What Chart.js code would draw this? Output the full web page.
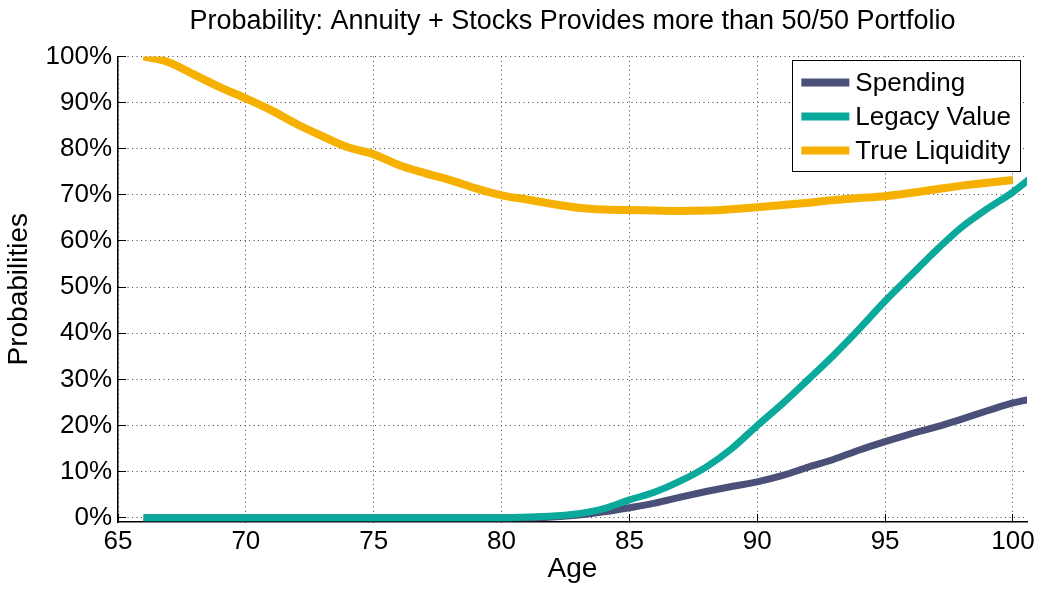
<!DOCTYPE html>
<html>
<head>
<meta charset="utf-8">
<script src="https://cdn.jsdelivr.net/npm/chart.js@4/dist/chart.umd.min.js"></script>
<style>
  html, body { margin: 0; padding: 0; background: #fff; }
  #wrap { width: 1043px; height: 590px; position: relative; }
</style>
</head>
<body>
<div id="wrap"><canvas id="probChart"></canvas></div>
<script>
// ages (years) and probabilities (%)
const ages = [66, 67, 68, 69, 70, 71, 72, 73, 74, 75, 76, 77, 78, 79, 80, 81, 82, 83,
  84, 85, 86, 87, 88, 89, 90, 91, 92, 93, 94, 95, 96, 97, 98, 99, 100, 101];
const spending = [0, 0, 0, 0, 0, 0, 0, 0, 0, 0, 0, 0, 0, 0, 0, 0, 0.2, 0.6,
  1.3, 2.2, 3.2, 4.5, 5.7, 6.8, 7.8, 9.2, 11, 12.7, 14.7, 16.5, 18.2, 19.7, 21.4, 23.2, 24.9, 26.0];
const legacyValue = [0, 0, 0, 0, 0, 0, 0, 0, 0, 0, 0, 0, 0, 0, 0, 0.2, 0.4, 0.9,
  2, 3.9, 5.6, 8, 11, 15, 20, 24.8, 30, 35.3, 41, 47, 52.5, 58, 63, 67, 70.6, 75];
const trueLiquidity = [100, 98.7, 96, 93.3, 90.9, 88.3, 85.3, 82.7, 80.3, 78.8, 76.4, 74.7, 73.2, 71.4, 69.9, 69, 68, 67.2,
  66.8, 66.7, 66.6, 66.5, 66.6, 66.9, 67.3, 67.8, 68.3, 68.9, 69.3, 69.7, 70.4, 71.2, 72, 72.6, 73.2];
const xTicks = [65, 70, 75, 80, 85, 90, 95, 100];
const yTicks = [0, 10, 20, 30, 40, 50, 60, 70, 80, 90, 100];

const FONT = "'Liberation Sans', Arial, Helvetica, sans-serif";

function toPoints(values) {
  return values.map((v, i) => ({ x: ages[i], y: v }));
}

// legend drawn inside the plot, top-right, MATLAB style
const insideLegend = {
  id: "insideLegend",
  afterDatasetsDraw(chart) {
    const { ctx, chartArea } = chart;
    const sets = chart.data.datasets;
    ctx.save();
    ctx.font = "26px " + FONT;
    let textW = 0;
    sets.forEach((ds) => { textW = Math.max(textW, ctx.measureText(ds.label).width); });
    const sample = 48, inset = 9, gap = 6, rowH = 34;
    const w = inset + sample + gap + textW + 9;
    const h = 22 + rowH * (sets.length - 1) + 21;
    const right = chartArea.right - 7;
    const left = right - w;
    const top = chartArea.top + 4;
    ctx.fillStyle = "#fff";
    ctx.fillRect(left, top, w, h);
    ctx.strokeStyle = "#000";
    ctx.lineWidth = 1;
    ctx.strokeRect(Math.round(left) + 0.5, Math.round(top) + 0.5, Math.round(w), Math.round(h));
    sets.forEach((ds, i) => {
      const y = top + 22 + i * rowH;
      ctx.strokeStyle = ds.borderColor;
      ctx.lineWidth = 8;
      ctx.beginPath();
      ctx.moveTo(left + inset, y);
      ctx.lineTo(left + inset + sample, y);
      ctx.stroke();
      ctx.fillStyle = "#000";
      ctx.textBaseline = "middle";
      ctx.textAlign = "left";
      ctx.fillText(ds.label, left + inset + sample + gap, y + 1);
    });
    ctx.restore();
  },
};

new Chart(document.getElementById("probChart"), {
  type: "line",
  data: {
    datasets: [
      {
        label: "Spending",
        data: toPoints(spending),
        borderColor: "#4a5078",
        borderWidth: 7,
        order: 1,
      },
      {
        label: "Legacy Value",
        data: toPoints(legacyValue),
        borderColor: "#0ba99c",
        borderWidth: 7,
        order: 0,
      },
      {
        label: "True Liquidity",
        data: toPoints(trueLiquidity),
        borderColor: "#f6b000",
        borderWidth: 8,
        order: 2,
      },
    ],
  },
  options: {
    responsive: true,
    maintainAspectRatio: false,
    animation: false,
    layout: { padding: { left: 0, right: 16, top: 0, bottom: 0 } },
    elements: {
      point: { radius: 0 },
      line: { cubicInterpolationMode: "monotone", borderCapStyle: "butt" },
    },
    plugins: {
      legend: { display: false },
      tooltip: { enabled: false },
      title: {
        display: true,
        fullSize: false,
        text: "Probability: Annuity + Stocks Provides more than 50/50 Portfolio",
        color: "#000",
        font: { family: FONT, size: 27, weight: "normal" },
        padding: { top: 5, bottom: 19 },
      },
    },
    scales: {
      x: {
        type: "linear",
        min: 65,
        max: 100.55,
        afterBuildTicks(scale) {
          scale.ticks = xTicks.map((v) => ({ value: v }));
        },
        afterFit(scale) {
          scale.height = 68;
          scale.paddingLeft = 0;
          scale.paddingRight = 0;
        },
        ticks: {
          color: "#000",
          font: { family: FONT, size: 26 },
          padding: 12,
          maxRotation: 0,
        },
        grid: { color: "#444", lineWidth: 1, tickLength: -8, tickColor: "#000" },
        border: { display: true, color: "#000", width: 1.5, dash: [1, 3.5] },
        title: {
          display: true,
          text: "Age",
          color: "#000",
          font: { family: FONT, size: 28 },
          padding: { top: 0, bottom: 4 },
        },
      },
      y: {
        min: -0.9,
        max: 100,
        afterBuildTicks(scale) {
          scale.ticks = yTicks.map((v) => ({ value: v }));
        },
        afterFit(scale) {
          scale.width = 118;
          scale.paddingTop = 0;
          scale.paddingBottom = 0;
        },
        ticks: {
          color: "#000",
          font: { family: FONT, size: 26 },
          padding: 14,
          callback: (v) => v + "%",
        },
        grid: { color: "#444", lineWidth: 1, tickLength: -8, tickColor: "#000" },
        border: { display: true, color: "#000", width: 1.5, dash: [1, 3.5] },
        title: {
          display: true,
          text: "Probabilities",
          color: "#000",
          font: { family: FONT, size: 28 },
          padding: { top: 2, bottom: 0 },
        },
      },
    },
  },
  plugins: [insideLegend],
});
</script>
</body>
</html>
